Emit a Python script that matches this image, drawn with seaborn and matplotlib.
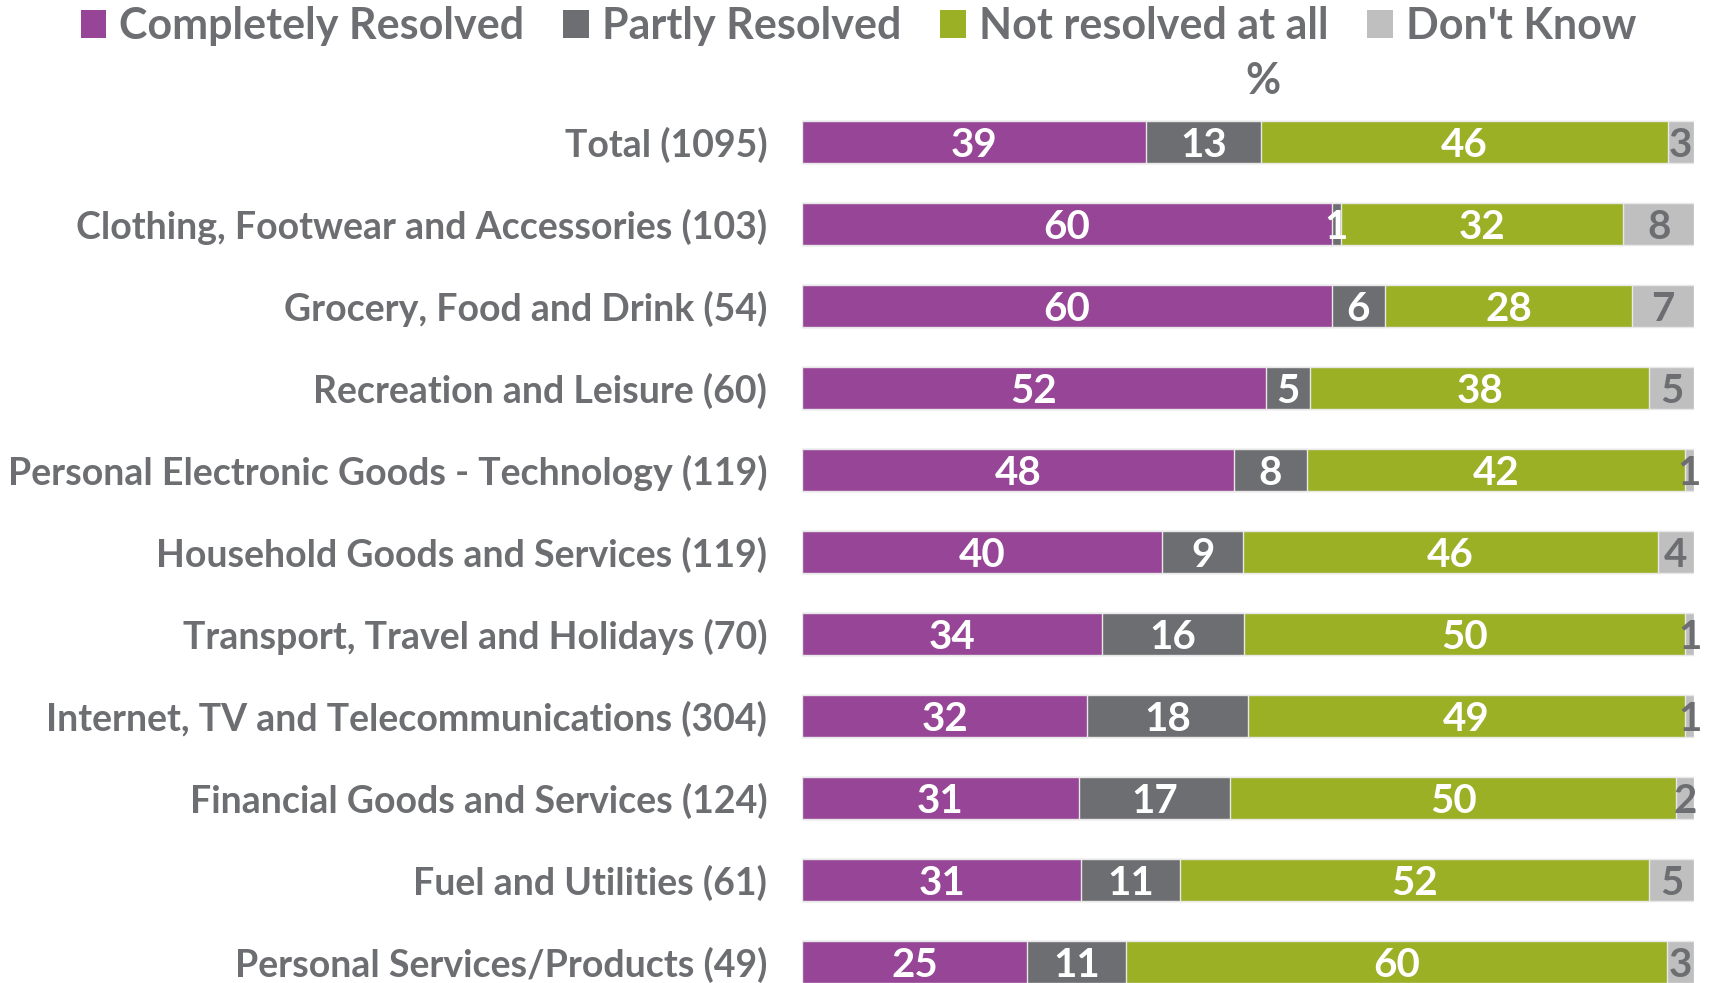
import numpy as np
import pandas as pd
import matplotlib
matplotlib.use("Agg")
import matplotlib.pyplot as plt
import seaborn as sns
from matplotlib.patches import Patch

sns.set_style("white")
plt.rcParams['font.family'] = ['Lato', 'DejaVu Sans']

# Datos
categorias = [
    'Total (1095)',
    'Clothing, Footwear and Accessories (103)',
    'Grocery, Food and Drink (54)',
    'Recreation and Leisure (60)',
    'Personal Electronic Goods - Technology (119)',
    'Household Goods and Services (119)',
    'Transport, Travel and Holidays (70)',
    'Internet, TV and Telecommunications (304)',
    'Financial Goods and Services (124)',
    'Fuel and Utilities (61)',
    'Personal Services/Products (49)',
]
series = ['Completely Resolved', 'Partly Resolved', 'Not resolved at all', "Don't Know"]
completo = [39, 60, 60, 52, 48, 40, 34, 32, 31, 31, 25]
parcial = [13, 1, 6, 5, 8, 9, 16, 18, 17, 11, 11]
no_resuelto = [46, 32, 28, 38, 42, 46, 50, 49, 50, 52, 60]
no_sabe = [3, 8, 7, 5, 1, 4, 1, 1, 2, 5, 3]

colores = ['#974596', '#6d6e71', '#9bb024', '#bfbfbf']
gris_texto = '#6d6e71'

valores = np.array([completo, parcial, no_resuelto, no_sabe], dtype=float)
pct = valores / valores.sum(axis=0) * 100
acum = np.cumsum(pct, axis=0)

df = pd.DataFrame({'categoria': categorias})
for i in range(4):
    df[f'acum{i}'] = acum[i]

fig = plt.figure(figsize=(17.1, 9.83), dpi=100)
ax = fig.add_axes([802 / 1710, 0, (1694 - 802) / 1710, 1])

# barras apiladas: de atrás hacia adelante
for i in [3, 2, 1, 0]:
    sns.barplot(data=df, x=f'acum{i}', y='categoria', orient='h',
                color=colores[i], saturation=1, width=0.51,
                edgecolor='#e8e8e8', linewidth=1, ax=ax)

# etiquetas de valores
for j in range(len(categorias)):
    for i in range(4):
        inicio = acum[i, j] - pct[i, j]
        centro = inicio + pct[i, j] / 2
        col = 'white' if i < 3 else gris_texto
        ax.text(centro, j + 0.04, f'{int(valores[i, j])}', ha='center', va='center',
                color=col, fontsize=29, fontweight='bold')

ax.set_xlim(0, 100)
ax.set_ylim(10.256, -1.732)
ax.set_xlabel('')
ax.set_ylabel('')
ax.set_xticks([])
ax.tick_params(axis='y', length=0, pad=25)
ax.set_yticks(range(len(categorias)))
ax.set_yticklabels(categorias, fontsize=27, color=gris_texto, fontweight='bold')
for s in ax.spines.values():
    s.set_visible(False)

ax.text(51.7, -0.74, '%', ha='center', va='center', fontsize=31,
        color=gris_texto, fontweight='bold')

handles = [Patch(facecolor=c, edgecolor='none') for c in colores]
fig.legend(handles, series, loc='upper center', bbox_to_anchor=(0.502, 1.033),
           ncol=4, frameon=False, labelcolor=gris_texto,
           prop={'weight': 'bold', 'size': 31},
           handlelength=0.6, handleheight=0.6, handletextpad=0.3, columnspacing=0.9)

fig.savefig('out.png', dpi=100)
